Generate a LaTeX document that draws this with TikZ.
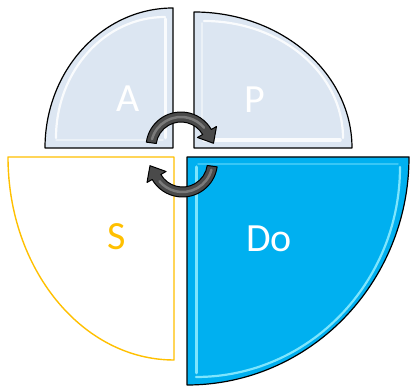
\documentclass[tikz,border=0pt]{standalone}
\usepackage{fontspec}
\setmainfont{Carlito}
\definecolor{paleblue}{HTML}{DCE6F2}
\definecolor{sorange}{HTML}{FFC000}
\definecolor{docyan}{HTML}{00B0F0}
\definecolor{dohigh}{HTML}{8CEBFF}
\definecolor{arrowgray}{HTML}{4A4A4A}
\definecolor{arrowmid}{HTML}{7A7A7A}
\tikzset{
  quadA/.style={fill=paleblue, draw=black, line width=1.2pt, line join=round},
  quadDo/.style={fill=docyan, draw=black, line width=1.2pt, line join=round},
  quadS/.style={fill=white, draw=sorange, line width=1.4pt, line join=round},
  bevelwhite/.style={draw=white, line width=2.2pt, opacity=0.85, line cap=round},
  bevelfaint/.style={draw=white, line width=1.5pt, opacity=0.45, line cap=round},
  bevelcyan/.style={draw=dohigh, line width=2.2pt, opacity=0.9, line cap=round},
  bevelcyanfaint/.style={draw=dohigh, line width=1.5pt, opacity=0.4, line cap=round},
  letter/.style={inner sep=0pt, font=\fontsize{40}{44}\selectfont},
  cyclearrow/.style={fill=arrowgray, draw=black, line width=1pt, line join=round},
  arrowshine/.style={draw=arrowmid, line width=2.5pt, line cap=round}
}
\begin{document}
\begin{tikzpicture}[x=1pt,y=1pt]
\useasboundingbox (0,0) rectangle (410,387);
% A quadrant (corner bottom-right)
\path[quadA] (45,239) arc[start angle=180, end angle=90, x radius=128pt, y radius=140pt] -- (173,239) -- cycle;
\path[bevelwhite] (56,249) arc[start angle=180, end angle=90, x radius=109pt, y radius=121pt];
\path[bevelwhite, line width=3pt] (165,368) -- (165,249);
\path[bevelfaint] (56,247) -- (163,247);
% P quadrant (corner bottom-left)
\path[quadA] (194,375) arc[start angle=90, end angle=0, x radius=158pt, y radius=136pt] -- (194,239) -- cycle;
\path[bevelwhite] (204,366) arc[start angle=90, end angle=0, x radius=139pt, y radius=117pt];
\path[bevelwhite, line width=3.5pt] (204,247) -- (340,247);
\path[bevelfaint] (202,364) -- (202,249);
% S quadrant (corner top-right)
\path[quadS] (8,230) arc[start angle=180, end angle=270, x radius=166pt, y radius=203pt] -- (174,230) -- cycle;
% Do quadrant (corner top-left)
\path[quadDo] (409,230) arc[start angle=0, end angle=-90, x radius=222pt, y radius=228pt] -- (187,230) -- cycle;
\path[bevelcyan] (400,220) arc[start angle=0, end angle=-90, x radius=204pt, y radius=210pt];
\path[bevelcyan, line width=3pt] (196,220) -- (196,14);
\path[bevelcyanfaint] (198,223) -- (398,223);
% labels
\node[letter, text=white] (la) at (128,288.5) {A};
\node[letter, text=white] (lp) at (255,287) {P};
\node[letter, text=sorange] (ls) at (116.5,150.5) {S};
\node[letter, text=white] (ldo) at (269,148) {Do};
% cycle arrows
\begin{scope}[shift={(181,240)}]
  \path[cyclearrow] (172:35pt) arc[start angle=172, end angle=30, radius=35pt] -- (30:41pt) -- (32.5pt,3.7pt) -- (30:19pt) -- (30:25pt) arc[start angle=30, end angle=172, radius=25pt] -- cycle;
  \path[arrowshine] (165:30pt) arc[start angle=165, end angle=40, radius=30pt];
\end{scope}
\begin{scope}[shift={(182.5,225)}, rotate=180]
  \path[cyclearrow] (172:35pt) arc[start angle=172, end angle=30, radius=35pt] -- (30:41pt) -- (32.5pt,3.7pt) -- (30:19pt) -- (30:25pt) arc[start angle=30, end angle=172, radius=25pt] -- cycle;
  \path[arrowshine] (165:30pt) arc[start angle=165, end angle=40, radius=30pt];
\end{scope}
\end{tikzpicture}
\end{document}
